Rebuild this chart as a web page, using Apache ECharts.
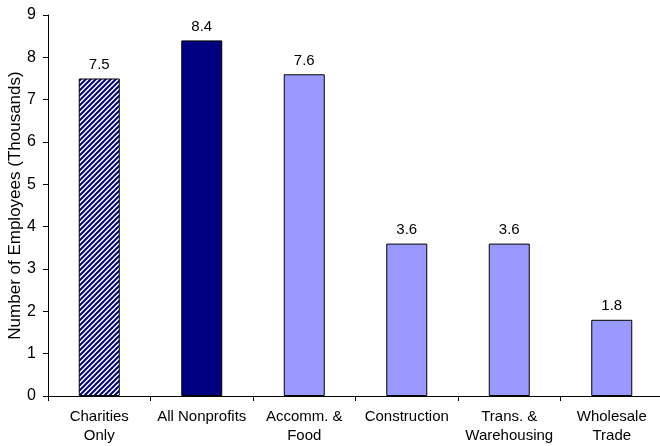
<!DOCTYPE html>
<html><head><meta charset="utf-8">
<script src="https://cdn.jsdelivr.net/npm/echarts@6/dist/echarts.min.js"></script>
<style>html,body{margin:0;padding:0;background:#fff}#c{width:660px;height:446px}</style>
</head><body><div id="c"></div>
<script>
var categories = ['Charities\nOnly', 'All Nonprofits', 'Accomm. &\nFood', 'Construction', 'Trans. &\nWarehousing', 'Wholesale\nTrade'];
var values = [7.5, 8.4, 7.6, 3.6, 3.6, 1.8];
var yTicks = [0, 1, 2, 3, 4, 5, 6, 7, 8, 9];

function hatch() {
  var n = 5;
  var c = document.createElement('canvas');
  c.width = n; c.height = n;
  var g = c.getContext('2d');
  g.fillStyle = '#ffffff'; g.fillRect(0, 0, n, n);
  g.strokeStyle = '#000080'; g.lineWidth = 2;
  g.beginPath();
  for (var k = -2; k <= 2; k++) { g.moveTo(k * n - 1, n + 1); g.lineTo(k * n + n + 1, -1); }
  g.stroke();
  return c;
}
var colors = [{image: hatch(), repeat: 'repeat'}, '#000080', '#9999FF', '#9999FF', '#9999FF', '#9999FF'];
var FONT = 'Liberation Sans, Arial, sans-serif';

var chart = echarts.init(document.getElementById('c'));
chart.setOption({
  animation: false,
  grid: {left: 48, top: 15, width: 615, bottom: 50, containLabel: false, outerBoundsMode: 'none'},
  xAxis: {
    type: 'category', data: categories,
    axisLine: {lineStyle: {color: '#000', width: 1}},
    axisTick: {show: true, length: 5, lineStyle: {color: '#000'}},
    axisLabel: {color: '#000', fontSize: 15, fontFamily: FONT, margin: 11, lineHeight: 19, interval: 0}
  },
  yAxis: {
    type: 'value', min: yTicks[0], max: yTicks[yTicks.length - 1], interval: 1,
    name: 'Number of Employees (Thousands)', nameLocation: 'middle', nameGap: 24, nameMoveOverlap: false,
    nameTextStyle: {color: '#000', fontSize: 17, fontFamily: FONT},
    axisLine: {show: true, lineStyle: {color: '#000'}},
    axisTick: {show: true, length: 5, lineStyle: {color: '#000'}},
    axisLabel: {color: '#000', fontSize: 16, fontFamily: FONT, margin: 12},
    splitLine: {show: false}
  },
  series: [{
    type: 'bar', barWidth: 41,
    data: values.map(function (v, i) {
      return {value: v, itemStyle: {color: colors[i]}};
    }),
    itemStyle: {borderColor: '#000', borderWidth: 1},
    label: {show: true, position: 'top', color: '#000', fontSize: 15, fontFamily: FONT, distance: 6, formatter: function (p) { return p.value.toFixed(1); }}
  }]
});
</script></body></html>
